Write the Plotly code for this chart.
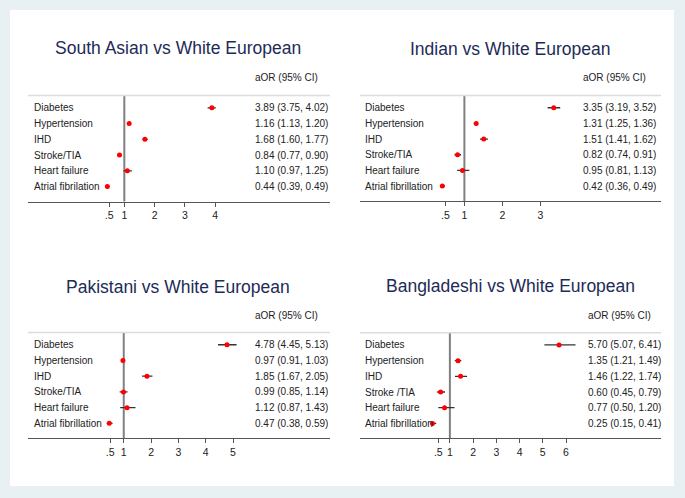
import plotly.graph_objects as go

# ---------------- data ----------------
titles = ["South Asian vs White European", "Indian vs White European",
          "Pakistani vs White European", "Bangladeshi vs White European"]

labels_sa = ["Diabetes", "Hypertension", "IHD", "Stroke/TIA", "Heart failure", "Atrial fibrilation"]
labels_in = ["Diabetes", "Hypertension", "IHD", "Stroke/TIA", "Heart failure", "Atrial fibrillation"]
labels_pk = ["Diabetes", "Hypertension", "IHD", "Stroke/TIA", "Heart failure", "Atrial fibrillation"]
labels_bd = ["Diabetes", "Hypertension", "IHD", "Stroke /TIA", "Heart failure", "Atrial fibrillation"]

or_sa = [3.89, 1.16, 1.68, 0.84, 1.10, 0.44]
lo_sa = [3.75, 1.13, 1.60, 0.77, 0.97, 0.39]
hi_sa = [4.02, 1.20, 1.77, 0.90, 1.25, 0.49]

or_in = [3.35, 1.31, 1.51, 0.82, 0.95, 0.42]
lo_in = [3.19, 1.25, 1.41, 0.74, 0.81, 0.36]
hi_in = [3.52, 1.36, 1.62, 0.91, 1.13, 0.49]

or_pk = [4.78, 0.97, 1.85, 0.99, 1.12, 0.47]
lo_pk = [4.45, 0.91, 1.67, 0.85, 0.87, 0.38]
hi_pk = [5.13, 1.03, 2.05, 1.14, 1.43, 0.59]

or_bd = [5.70, 1.35, 1.46, 0.60, 0.77, 0.25]
lo_bd = [5.07, 1.21, 1.22, 0.45, 0.50, 0.15]
hi_bd = [6.41, 1.49, 1.74, 0.79, 1.20, 0.41]

ticks_sa = [0.5, 1, 2, 3, 4]
ticks_in = [0.5, 1, 2, 3]
ticks_pk = [0.5, 1, 2, 3, 4, 5]
ticks_bd = [0.5, 1, 2, 3, 4, 5, 6]
tick_text = {0.5: ".5", 1: "1", 2: "2", 3: "3", 4: "4", 5: "5", 6: "6"}

header = "aOR (95% CI)"

panels = [
    dict(title=titles[0], labels=labels_sa, orv=or_sa, lo=lo_sa, hi=hi_sa, ticks=ticks_sa,
         xr=[-2.18, 7.79], xdom=[28, 330], ydom=[95.5, 201.5], lab_x=32, val_x=253, tit_y=48, head_y=77, tit_x=178),
    dict(title=titles[1], labels=labels_in, orv=or_in, lo=lo_in, hi=hi_in, ticks=ticks_in,
         xr=[-1.745, 6.17], xdom=[360, 661], ydom=[95.5, 201.0], lab_x=362.7, val_x=581, tit_y=49, head_y=77, tit_x=510),
    dict(title=titles[2], labels=labels_pk, orv=or_pk, lo=lo_pk, hi=hi_pk, ticks=ticks_pk,
         xr=[-2.505, 8.55], xdom=[28, 330], ydom=[332.5, 438.3], lab_x=31.7, val_x=253.3, tit_y=286.5, head_y=315, tit_x=178),
    dict(title=titles[3], labels=labels_bd, orv=or_bd, lo=lo_bd, hi=hi_bd, ticks=ticks_bd,
         xr=[-2.87, 10.09], xdom=[360, 661], ydom=[332.7, 438.3], lab_x=362.7, val_x=586, tit_y=286, head_y=315, tit_x=510.5),
]

W, H = 685, 498
def px(x):
    return x / W
def py(y):
    return 1 - y / H

FONT = "Liberation Sans, Arial, Helvetica, sans-serif"
BG = "#e8f0f3"
fig = go.Figure()
shapes = []
annotations = []

# white panel background
shapes.append(dict(type="rect", xref="paper", yref="paper", x0=px(10), x1=px(674), y0=py(486), y1=py(10),
                   fillcolor="white", line=dict(width=0), layer="below"))

for i, p in enumerate(panels):
    n = i + 1
    xa = "x" if n == 1 else f"x{n}"
    ya = "y" if n == 1 else f"y{n}"
    rows = list(range(len(p["labels"])))
    err_plus = [h - o for h, o in zip(p["hi"], p["orv"])]
    err_minus = [o - l for o, l in zip(p["orv"], p["lo"])]
    fig.add_trace(go.Scatter(
        x=p["orv"], y=rows, mode="markers", xaxis=xa, yaxis=ya,
        marker=dict(color="#ff0000", size=5, symbol="circle"),
        error_x=dict(type="data", symmetric=False, array=err_plus, arrayminus=err_minus,
                     color="#333333", thickness=1.3, width=0),
        showlegend=False, hoverinfo="x+y"))

    xkey = "xaxis" if n == 1 else f"xaxis{n}"
    ykey = "yaxis" if n == 1 else f"yaxis{n}"
    fig.layout[xkey] = dict(
        domain=[px(p["xdom"][0]), px(p["xdom"][1])], range=p["xr"], anchor=ya,
        showgrid=False, zeroline=False, showline=True, linecolor="#555555", linewidth=1.3,
        ticks="outside", ticklen=4, tickcolor="#555555", tickwidth=1,
        tickvals=p["ticks"], ticktext=[tick_text[t] for t in p["ticks"]],
        tickfont=dict(family=FONT, size=10.5, color="#222222"), fixedrange=True)
    fig.layout[ykey] = dict(
        domain=[py(p["ydom"][1]), py(p["ydom"][0])], range=[len(rows) - 1 + 0.95, -0.78],
        anchor=xa, showgrid=False, zeroline=False, showline=False, showticklabels=False,
        ticks="", fixedrange=True)

    # top separator line
    shapes.append(dict(type="line", xref=f"{xa} domain", yref=f"{ya} domain", x0=0, x1=1, y0=1, y1=1,
                       line=dict(color="#dcdcdc", width=1.5)))
    # reference line at OR = 1
    shapes.append(dict(type="line", xref=xa, yref=f"{ya} domain", x0=1, x1=1, y0=0, y1=1,
                       line=dict(color="#808080", width=2), layer="below"))

    # title
    annotations.append(dict(text=p["title"], xref="paper", yref="paper", x=px(p["tit_x"]), y=py(p["tit_y"]),
                            xanchor="center", yanchor="middle", showarrow=False,
                            font=dict(family=FONT, size=17.5, color="#1d2b57")))
    # header
    annotations.append(dict(text=header, xref="paper", yref="paper", x=px(p["val_x"]), y=py(p["head_y"]),
                            xanchor="left", yanchor="middle", showarrow=False,
                            font=dict(family=FONT, size=10, color="#222222")))
    for r, lab, o, l, h in zip(rows, p["labels"], p["orv"], p["lo"], p["hi"]):
        annotations.append(dict(text=lab, xref="paper", yref=ya, x=px(p["lab_x"]), y=r,
                                xanchor="left", yanchor="middle", showarrow=False,
                                font=dict(family=FONT, size=10, color="#222222")))
        annotations.append(dict(text=f"{o:.2f} ({l:.2f}, {h:.2f})", xref="paper", yref=ya,
                                x=px(p["val_x"]), y=r, xanchor="left", yanchor="middle", showarrow=False,
                                font=dict(family=FONT, size=10, color="#222222")))

fig.update_layout(width=W, height=H, margin=dict(l=0, r=0, t=0, b=0),
                  paper_bgcolor=BG, plot_bgcolor="rgba(0,0,0,0)",
                  shapes=shapes, annotations=annotations, showlegend=False)

fig.write_html("out.html", config={"displayModeBar": False},
               post_script="document.body.style.margin='0px';document.body.style.background='%s';" % BG)
